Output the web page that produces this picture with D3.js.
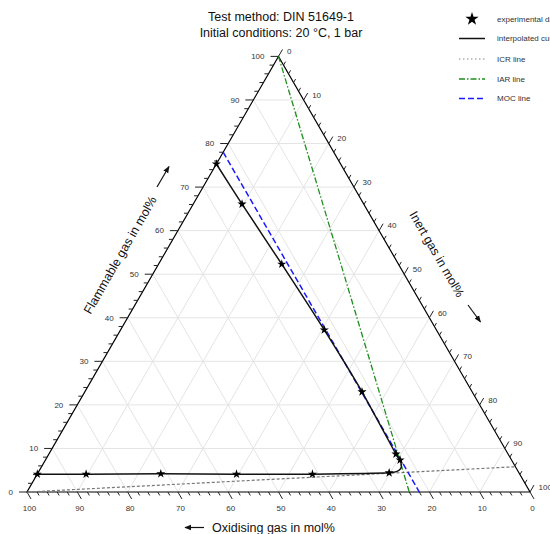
<!DOCTYPE html>
<html>
<head>
<meta charset="utf-8">
<script src="https://cdn.jsdelivr.net/npm/d3@7"></script>
<style>
  html, body { margin: 0; padding: 0; background: #fff; }
  svg { display: block; font-family: "Liberation Sans", Arial, sans-serif; }
</style>
</head>
<body>
<svg id="chart" width="550" height="534"></svg>
<script>
// ---- Data (mol%) ----
// experimental points, listed along the interpolated curve
const expFlammable = [4.1, 4.1, 4.2, 4.1, 4.1, 4.4, 7.35, 8.7, 23.0, 37.2, 52.3, 66.1, 75.3];
const expInert     = [0.0, 9.7, 24.5, 39.6, 54.7, 69.8, 70.5, 69.0, 55.1, 40.5, 24.5, 9.7, 0.0];
const expOxidising = expFlammable.map((f, i) => 100 - f - expInert[i]);

// interpolated curve: experimental points plus the rounded corner
const curveFlammable = [4.1, 4.1, 4.2, 4.1, 4.1, 4.4, 5.4, 7.35, 8.7, 23.0, 37.2, 52.3, 66.1, 75.3];
const curveInert     = [0.0, 9.7, 24.5, 39.6, 54.7, 69.8, 71.6, 70.5, 69.0, 55.1, 40.5, 24.5, 9.7, 0.0];

// characteristic lines
const mocOxidising = 22.0;                 // MOC line: constant oxidising gas
const iarEnd = { F: 0, I: 76.0 };          // IAR line: from flammable vertex to this point
const icrEnd = { F: 5.8, I: 94.2 };        // ICR line: from oxidising vertex to this point

const tickValues = d3.range(0, 101, 10);
const minorTickValues = d3.range(0, 101, 2).filter(v => v % 10 !== 0);
const gridValues = d3.range(10, 100, 10);

const titleLines = ["Test method: DIN 51649-1", "Initial conditions: 20 °C, 1 bar"];
const legendItems = ["experimental data", "interpolated curve", "ICR line", "IAR line", "MOC line"];

// ---- Scales ----
const xs = d3.scaleLinear().domain([0, 100]).range([27, 530]);   // I + F/2
const ys = d3.scaleLinear().domain([0, 100]).range([492, 56.4]); // F
const P = (F, I) => [xs(I + F / 2), ys(F)];

const svg = d3.select("#chart");
svg.append("rect").attr("width", 550).attr("height", 534).attr("fill", "#fff");

// ---- Grid ----
const g = svg.append("g");
const gridLines = [];
gridValues.forEach(v => {
  gridLines.push([P(v, 0), P(v, 100 - v)]);          // constant F
  gridLines.push([P(100 - v, 0), P(0, 100 - v)]);    // constant O
  gridLines.push([P(100 - v, v), P(0, v)]);          // constant I
});
g.selectAll(".grid").data(gridLines).join("line")
  .attr("x1", d => d[0][0]).attr("y1", d => d[0][1])
  .attr("x2", d => d[1][0]).attr("y2", d => d[1][1])
  .attr("stroke", "#e4e4e4").attr("stroke-width", 1);

// ---- Triangle ----
const tri = [P(0, 0), P(0, 100), P(100, 0)];
g.append("path").attr("d", d3.line()(tri) + "Z")
  .attr("fill", "none").attr("stroke", "#000").attr("stroke-width", 1.2);

// ---- Ticks ----
const tickColor = "#222";
function ticks(vals, len, fnPt, dir) {
  g.selectAll(null).data(vals).join("line")
    .attr("x1", v => fnPt(v)[0]).attr("y1", v => fnPt(v)[1])
    .attr("x2", v => fnPt(v)[0] + dir[0] * len).attr("y2", v => fnPt(v)[1] + dir[1] * len)
    .attr("stroke", tickColor).attr("stroke-width", 1);
}
const leftPt = v => P(v, 0);              // flammable
const bottomPt = v => P(0, 100 - v);      // oxidising
const rightPt = v => P(100 - v, v);       // inert
const s60 = Math.sqrt(3) / 2;
ticks(tickValues, 8, leftPt, [-1, 0]);
ticks(minorTickValues, 4, leftPt, [-1, 0]);
ticks(tickValues, 8, bottomPt, [0.5, s60]);
ticks(minorTickValues, 4, bottomPt, [0.5, s60]);
ticks(tickValues, 8, rightPt, [0.5, -s60]);
ticks(minorTickValues, 4, rightPt, [0.5, -s60]);

const lab = g.append("g").attr("font-size", 8).attr("fill", "#333");
lab.selectAll(null).data(tickValues).join("text")
  .attr("x", v => leftPt(v)[0] - 14).attr("y", v => leftPt(v)[1])
  .attr("dy", "0.35em").attr("text-anchor", "end").text(v => v);
lab.selectAll(null).data(tickValues).join("text")
  .attr("x", v => bottomPt(v)[0] + 2.5).attr("y", v => bottomPt(v)[1] + 19)
  .attr("text-anchor", "middle").text(v => v);
lab.selectAll(null).data(tickValues).join("text")
  .attr("x", v => rightPt(v)[0] + 8.5).attr("y", v => rightPt(v)[1] - 5)
  .attr("dy", "0.35em").attr("text-anchor", "start").text(v => v);

// ---- Characteristic lines ----
const lineGen = d3.line();
// ICR
g.append("path").attr("d", lineGen([P(0, 0), P(icrEnd.F, icrEnd.I)]))
  .attr("fill", "none").attr("stroke", "#777").attr("stroke-width", 1.2)
  .attr("stroke-dasharray", "3,2");
// IAR
g.append("path").attr("d", lineGen([P(100, 0), P(iarEnd.F, iarEnd.I)]))
  .attr("fill", "none").attr("stroke", "#1f8f1f").attr("stroke-width", 1.3)
  .attr("stroke-dasharray", "6,2,1.5,2");
// MOC
g.append("path").attr("d", lineGen([P(100 - mocOxidising, 0), P(0, 100 - mocOxidising)]))
  .attr("fill", "none").attr("stroke", "#1a1aff").attr("stroke-width", 1.5)
  .attr("stroke-dasharray", "6,3");

// ---- Interpolated curve ----
const curvePts = curveFlammable.map((f, i) => P(f, curveInert[i]));
g.append("path").attr("d", d3.line().curve(d3.curveCardinal.tension(0.3))(curvePts))
  .attr("fill", "none").attr("stroke", "#111").attr("stroke-width", 1.5);

// ---- Stars ----
const pts = expFlammable.map((f, i) => P(f, expInert[i]));
const star = d3.symbol().type(d3.symbolStar);
g.selectAll(".star").data(pts).join("path")
  .attr("transform", d => `translate(${d[0]},${d[1]})`)
  .attr("d", star.size(26)()).attr("fill", "#000");

// ---- Title ----
svg.selectAll(".title").data(titleLines).join("text")
  .attr("x", 281).attr("y", (d, i) => 21 + i * 16)
  .attr("text-anchor", "middle").attr("font-size", 12.5).attr("fill", "#111")
  .text(d => d);

// ---- Axis titles ----
const axisFont = 12.5;
svg.append("text").attr("transform", "translate(120,255) rotate(-60)")
  .attr("text-anchor", "middle").attr("dy", "0.35em").attr("font-size", axisFont).attr("fill", "#111")
  .text("Flammable gas in mol%");
svg.append("text").attr("transform", "translate(437,254) rotate(60)")
  .attr("text-anchor", "middle").attr("dy", "0.35em").attr("font-size", axisFont).attr("fill", "#111")
  .text("Inert gas in mol%");
svg.append("text").attr("x", 212).attr("y", 532)
  .attr("text-anchor", "start").attr("font-size", axisFont).attr("fill", "#111")
  .text("Oxidising gas in mol%");

// arrows
const defs = svg.append("defs");
defs.append("marker").attr("id", "ah").attr("viewBox", "0 0 10 10")
  .attr("refX", 9).attr("refY", 5).attr("markerWidth", 7).attr("markerHeight", 7)
  .attr("markerUnits", "userSpaceOnUse").attr("orient", "auto")
  .append("path").attr("d", "M0,1 L10,5 L0,9 Z").attr("fill", "#111");
const arrows = [[[157, 187], [169, 166.5]], [[468, 305], [480.5, 322]], [[204, 527.5], [185, 527.5]]];
svg.selectAll(".arrow").data(arrows).join("line")
  .attr("x1", d => d[0][0]).attr("y1", d => d[0][1])
  .attr("x2", d => d[1][0]).attr("y2", d => d[1][1])
  .attr("stroke", "#111").attr("stroke-width", 1.2).attr("marker-end", "url(#ah)");

// ---- Legend ----
const legY = [19, 38.5, 59, 79, 98.5];
const leg = svg.append("g");
const legStyles = [
  null,
  { stroke: "#111", dash: null, w: 1.5 },
  { stroke: "#8a8a8a", dash: "1.5,2.5", w: 1.2 },
  { stroke: "#1f8f1f", dash: "6,2,1.5,2", w: 1.3 },
  { stroke: "#1a1aff", dash: "6,3", w: 1.5 }
];
legendItems.forEach((name, i) => {
  if (i === 0) {
    leg.append("path").attr("transform", `translate(472,${legY[i]})`)
      .attr("d", star.size(55)()).attr("fill", "#000");
  } else {
    const st = legStyles[i];
    leg.append("line").attr("x1", 459).attr("x2", 485).attr("y1", legY[i]).attr("y2", legY[i])
      .attr("stroke", st.stroke).attr("stroke-width", st.w)
      .attr("stroke-dasharray", st.dash);
  }
  leg.append("text").attr("x", 497).attr("y", legY[i]).attr("dy", "0.35em")
    .attr("font-size", 8).attr("fill", "#333").text(name);
});
</script>
</body>
</html>
